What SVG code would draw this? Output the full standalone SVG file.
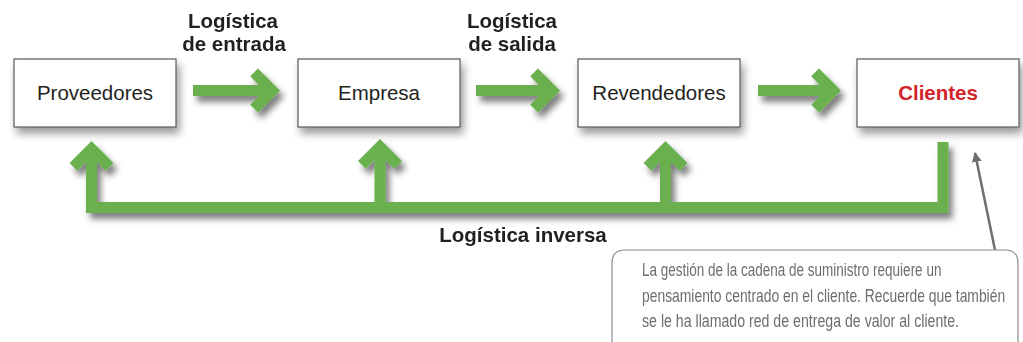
<svg xmlns="http://www.w3.org/2000/svg" xmlns:xlink="http://www.w3.org/1999/xlink" width="1023" height="342" viewBox="0 0 1023 342">
<style>
.box{fill:#fff;stroke:#58595b;stroke-width:1.2}
.lbl{font-family:"Liberation Sans",Arial,sans-serif;font-size:20.5px;fill:#231f20;text-anchor:middle}
.bold{font-weight:bold}
.red{fill:#d2232a}
.grn{fill:none;stroke:#6AB04F;stroke-width:11;stroke-linejoin:miter;stroke-linecap:butt}
.note{font-family:"Liberation Sans",Arial,sans-serif;font-size:18.5px;fill:#6d6e71}
</style>
<defs>
<filter id="shB" x="-20%" y="-30%" width="150%" height="180%">
<feDropShadow dx="3" dy="6" stdDeviation="4" flood-color="#000" flood-opacity="0.4"/>
</filter>
<filter id="shA" x="-20%" y="-30%" width="150%" height="180%">
<feDropShadow dx="4" dy="6" stdDeviation="3" flood-color="#000" flood-opacity="0.5"/>
</filter>
<path id="ah" class="grn" d="M-25.9,-18.1 L-7.8,0 L-25.9,18.1"/>
<marker id="pt" markerWidth="10" markerHeight="10" refX="9" refY="5" orient="auto" markerUnits="userSpaceOnUse" viewBox="0 0 10 10">
<path d="M0,0 L10,5 L0,10 Z" fill="#6d6e71"/>
</marker>
</defs>

<g id="node-proveedores">
<rect class="box" x="14" y="59" width="162" height="68" filter="url(#shB)"/>
<text class="lbl" x="95" y="100">Proveedores</text>
</g>
<g id="node-empresa">
<rect class="box" x="298" y="59" width="162" height="68" filter="url(#shB)"/>
<text class="lbl" x="379" y="100">Empresa</text>
</g>
<g id="node-revendedores">
<rect class="box" x="578" y="59" width="162" height="68" filter="url(#shB)"/>
<text class="lbl" x="659" y="100">Revendedores</text>
</g>
<g id="node-clientes">
<rect class="box" x="857" y="59" width="162" height="68" filter="url(#shB)"/>
<text class="lbl bold red" x="938" y="100">Clientes</text>
</g>

<g id="connectors">
<g filter="url(#shA)">
<g transform="translate(280,90.5)"><path class="grn" d="M-87,0 H-10"/><use xlink:href="#ah"/></g>
<g transform="translate(560,90.5)"><path class="grn" d="M-84,0 H-10"/><use xlink:href="#ah"/></g>
<g transform="translate(841,90.5)"><path class="grn" d="M-83,0 H-10"/><use xlink:href="#ah"/></g>
</g>
<g filter="url(#shA)">
<path class="grn" d="M943,142 V207.5 H91.5 V150"/>
<path class="grn" d="M380,207.5 V148"/>
<path class="grn" d="M665.5,207.5 V150"/>
<use xlink:href="#ah" transform="translate(91.5,141) rotate(-90)"/>
<use xlink:href="#ah" transform="translate(380,139) rotate(-90)"/>
<use xlink:href="#ah" transform="translate(665.5,141) rotate(-90)"/>
</g>
<line x1="995" y1="250" x2="975" y2="153" stroke="#6d6e71" stroke-width="2.5" marker-end="url(#pt)"/>
</g>

<g id="labels">
<text class="lbl bold" x="233" y="28">Logística</text>
<text class="lbl bold" x="234" y="51">de entrada</text>
<text class="lbl bold" x="512" y="28">Logística</text>
<text class="lbl bold" x="512" y="51">de salida</text>
<text class="lbl bold" x="523" y="242">Logística inversa</text>
</g>

<g id="node-nota">
<path d="M612,342 V263 Q612,250 625,250 H1005 Q1018,250 1018,263 V342" fill="#fff" stroke="#8a8b8d" stroke-width="1.2"/>
<text class="note" transform="translate(642,276) scale(0.73,1)">La gestión de la cadena de suministro requiere un</text>
<text class="note" transform="translate(642,301.5) scale(0.75,1)">pensamiento centrado en el cliente. Recuerde que también</text>
<text class="note" transform="translate(642,327) scale(0.765,1)">se le ha llamado red de entrega de valor al cliente.</text>
</g>
</svg>
